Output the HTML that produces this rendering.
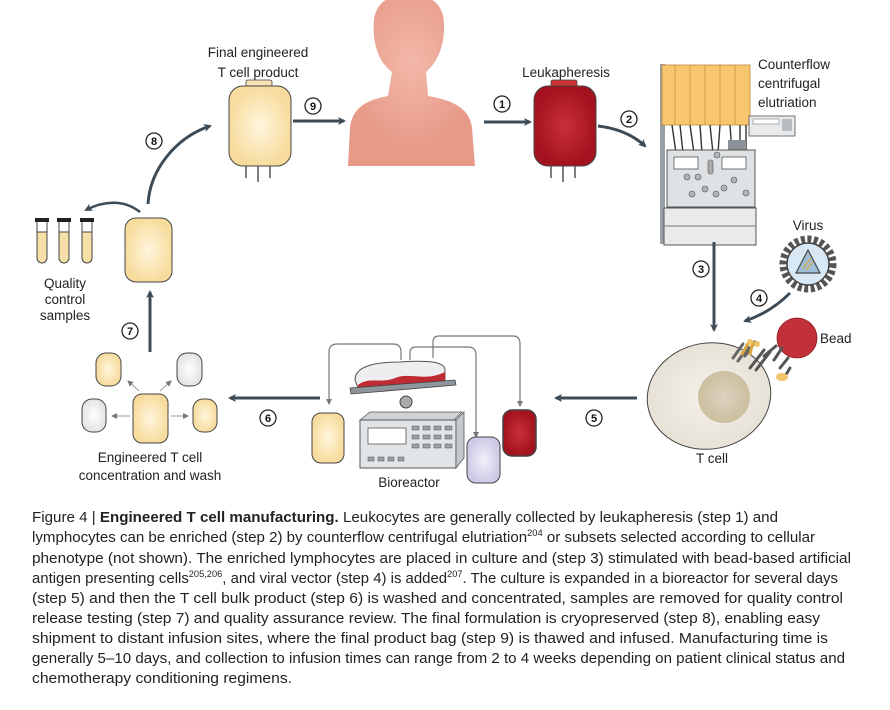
<!DOCTYPE html>
<html><head><meta charset="utf-8"><style>
html,body{margin:0;padding:0;background:#fff;}
svg{display:block;font-family:"Liberation Sans",sans-serif;}
</style></head><body>
<svg width="890" height="710" viewBox="0 0 890 710" xmlns="http://www.w3.org/2000/svg">
<defs>
<marker id="ah" markerWidth="8" markerHeight="8" refX="6" refY="4" orient="auto" markerUnits="userSpaceOnUse"><path d="M0,0 L8,4 L0,8 L2,4z" fill="#3d4b57"/></marker>
<marker id="ahs" markerWidth="6" markerHeight="6" refX="5" refY="3" orient="auto" markerUnits="userSpaceOnUse"><path d="M0,0 L6,3 L0,6z" fill="#777"/></marker>
<radialGradient id="cream"><stop offset="0" stop-color="#fff6dd"/><stop offset="1" stop-color="#f7dc9e"/></radialGradient>
<radialGradient id="red"><stop offset="0" stop-color="#c9303a"/><stop offset="1" stop-color="#a3121e"/></radialGradient>
<radialGradient id="lil"><stop offset="0" stop-color="#f3f0fa"/><stop offset="1" stop-color="#cfc9e6"/></radialGradient>
<radialGradient id="wh"><stop offset="0" stop-color="#ffffff"/><stop offset="1" stop-color="#e4e4e4"/></radialGradient>
<radialGradient id="pink" cx="0.5" cy="0.4"><stop offset="0" stop-color="#f3b8a8"/><stop offset="1" stop-color="#e79a88"/></radialGradient>
<radialGradient id="cell"><stop offset="0" stop-color="#f5f2ec"/><stop offset="1" stop-color="#e7e1d6"/></radialGradient>
<radialGradient id="nuc"><stop offset="0" stop-color="#ddd3bf"/><stop offset="1" stop-color="#cbbf9f"/></radialGradient>
</defs>

<!-- Body -->
<path d="M348,166 L350,128 C352,108 366,100 388,96 L392,72 C378,62 372,42 374,20 C376,2 390,-6 410,-6 C432,-6 444,6 444,24 C445,44 438,62 426,72 L428,96 C452,100 470,108 472,128 L475,166 Z" fill="url(#pink)"/>

<!-- Final bag -->
<g>
<rect x="246" y="80" width="26" height="8" rx="2" fill="#f4e2b6" stroke="#444" stroke-width="0.8"/>
<rect x="229" y="86" width="62" height="80" rx="14" fill="url(#cream)" stroke="#444" stroke-width="1"/>
<path d="M246,166 v12 M258,166 v16 M270,166 v12" stroke="#555" stroke-width="1.5" fill="none"/>
</g>
<text x="258" y="57" font-size="13.5" text-anchor="middle" fill="#222">Final engineered</text>
<text x="258" y="77" font-size="13.5" text-anchor="middle" fill="#222">T cell product</text>

<!-- Leuka bag -->
<g>
<rect x="551" y="80" width="26" height="8" rx="2" fill="#c33" stroke="#444" stroke-width="0.8"/>
<rect x="534" y="86" width="62" height="80" rx="14" fill="url(#red)" stroke="#444" stroke-width="1"/>
<path d="M551,166 v12 M563,166 v16 M575,166 v12" stroke="#555" stroke-width="1.5" fill="none"/>
</g>
<text x="566" y="77" font-size="13.5" text-anchor="middle" fill="#222">Leukapheresis</text>

<!-- arrows top -->
<line x1="293" y1="121" x2="344" y2="121" stroke="#3d4b57" stroke-width="3" marker-end="url(#ah)"/>
<line x1="484" y1="122" x2="530" y2="122" stroke="#3d4b57" stroke-width="3" marker-end="url(#ah)"/>
<path d="M598,126 C615,128 632,134 645,146" stroke="#3d4b57" stroke-width="3" fill="none" marker-end="url(#ah)"/>
<path d="M148,204 C150,170 175,138 210,126" stroke="#3d4b57" stroke-width="3" fill="none" marker-end="url(#ah)"/>

<!-- machine -->
<g>
<rect x="660" y="64" width="5" height="180" fill="#9aa0a6"/>
<rect x="662" y="65" width="88" height="60" fill="#f7c66e" stroke="#b98a3a" stroke-width="0.8"/>
<path d="M675,65 v60 M690,65 v60 M705,65 v60 M720,65 v60 M735,65 v60" stroke="#c9953f" stroke-width="0.8"/>
<path d="M672,125 l4,28 M680,125 l3,28 M690,125 l4,28 M700,125 l2,28 M710,125 l3,28 M720,125 l-2,28 M730,125 l2,28 M740,125 l0,28 M746,125 l0,28" stroke="#333" stroke-width="1.4"/>
<rect x="749" y="116" width="46" height="20" fill="#e8eaec" stroke="#555" stroke-width="0.8"/>
<rect x="753" y="119" width="26" height="5" fill="#fff" stroke="#666" stroke-width="0.5"/>
<rect x="782" y="119" width="10" height="12" fill="#b8bdc2"/>
<rect x="728" y="140" width="18" height="12" fill="#8a9198"/>
<rect x="667" y="150" width="88" height="57" fill="#dfe2e4" stroke="#555" stroke-width="1"/>
<rect x="674" y="157" width="24" height="12" fill="#fff" stroke="#555" stroke-width="0.8"/>
<rect x="722" y="157" width="24" height="12" fill="#fff" stroke="#555" stroke-width="0.8"/>
<rect x="708" y="160" width="5" height="14" rx="2" fill="#aaa" stroke="#555" stroke-width="0.6"/>
<g fill="#b0b5ba" stroke="#555" stroke-width="0.6"><circle cx="687" cy="177" r="3"/><circle cx="698" cy="177" r="3"/><circle cx="705" cy="189" r="3"/><circle cx="716" cy="194" r="3"/><circle cx="724" cy="188" r="3"/><circle cx="734" cy="180" r="3"/><circle cx="746" cy="193" r="3"/><circle cx="692" cy="194" r="3"/><circle cx="717" cy="155" r="3"/></g>
<rect x="664" y="208" width="92" height="37" fill="#e8eaec" stroke="#555" stroke-width="1"/>
<line x1="664" y1="226" x2="756" y2="226" stroke="#777"/>
</g>
<text x="758" y="69" font-size="13.5" fill="#222">Counterflow</text>
<text x="758" y="88" font-size="13.5" fill="#222">centrifugal</text>
<text x="758" y="107" font-size="13.5" fill="#222">elutriation</text>

<!-- Virus -->
<text x="808" y="230" font-size="13.5" text-anchor="middle" fill="#222">Virus</text>
<circle cx="808" cy="264" r="25" fill="none" stroke="#555" stroke-width="7" stroke-dasharray="4 2.5"/>
<circle cx="808" cy="264" r="21" fill="#d8e8f5" stroke="#444" stroke-width="1.5"/>
<path d="M796,273 L808,250 L820,273 Z" fill="#9fbfd8" stroke="#444" stroke-width="1.2"/>
<path d="M803,268 l8,-10 M806,270 l7,-8" stroke="#d9a640" stroke-width="1.2"/>

<!-- arrows 3,4 -->
<line x1="714" y1="242" x2="714" y2="330" stroke="#3d4b57" stroke-width="3" marker-end="url(#ah)"/>
<path d="M790,293 C775,308 760,316 745,321" stroke="#3d4b57" stroke-width="3" fill="none" marker-end="url(#ah)"/>

<!-- T cell -->
<ellipse cx="709" cy="396" rx="62" ry="53" transform="rotate(-10 709 396)" fill="url(#cell)" stroke="#444" stroke-width="1"/>
<circle cx="724" cy="397" r="26" fill="url(#nuc)"/>
<circle cx="797" cy="338" r="20" fill="#c2303a" stroke="#8b1a22" stroke-width="0.8"/>
<g stroke-width="3" stroke-linecap="round">
<path d="M733,358 l10,-14 M738,361 l10,-14 M745,356 l10,-14" stroke="#666"/>
<path d="M742,354 l7,-12 M750,354 l3,-12" stroke="#d9a640"/>
<path d="M750,368 l14,-18 M756,370 l14,-18 M764,356 l12,-10 M774,360 l8,-12 M780,368 l8,-10 M784,378 l6,-10" stroke="#555"/>
</g>
<ellipse cx="782" cy="377" rx="6" ry="4" fill="#f1c46a"/>
<circle cx="750" cy="342" r="3" fill="#f1c46a"/><circle cx="757" cy="344" r="3" fill="#f1c46a"/>
<text x="820" y="343" font-size="13.5" fill="#222">Bead</text>
<text x="712" y="463" font-size="13.5" text-anchor="middle" fill="#222">T cell</text>

<!-- arrow 5,6 -->
<line x1="637" y1="398" x2="556" y2="398" stroke="#3d4b57" stroke-width="3" marker-end="url(#ah)"/>
<line x1="320" y1="398" x2="230" y2="398" stroke="#3d4b57" stroke-width="3" marker-end="url(#ah)"/>

<!-- Bioreactor -->
<g fill="none" stroke="#777" stroke-width="1.2">
<path d="M401,360 v-8 q0,-8 -8,-8 h-56 q-8,0 -8,8 v52" marker-end="url(#ahs)"/>
<path d="M410,360 v-7 q0,-6 6,-6 h52 q8,0 8,8 v82" marker-end="url(#ahs)"/>
<path d="M433,358 v-16 q0,-6 6,-6 h74 q7,0 7,8 v62" marker-end="url(#ahs)"/>
</g>
<path d="M355,380 C355,368 370,362 400,362 C430,360 445,362 445,370 L445,384 L358,388 Z" fill="#eeeef0" stroke="#555" stroke-width="1"/>
<path d="M358,385 C370,376 380,384 395,378 C410,372 425,382 445,372 L445,384 L358,388 Z" fill="#c02a33"/>
<path d="M350,388 L455,380 L456,385 L351,394 Z" fill="#8e959b" stroke="#444" stroke-width="0.8"/>
<circle cx="406" cy="402" r="6" fill="#aaa" stroke="#444"/>
<path d="M360,420 l10,-8 h92 l-8,8 z" fill="#cfd3d6" stroke="#555" stroke-width="0.8"/>
<rect x="360" y="420" width="96" height="48" fill="#e2e5e7" stroke="#555" stroke-width="1"/>
<path d="M456,420 l8,-8 v46 l-8,10z" fill="#c4c8cc" stroke="#555" stroke-width="0.8"/>
<rect x="368" y="428" width="38" height="16" fill="#fff" stroke="#555" stroke-width="0.8"/>
<g fill="#9aa0a6" stroke="#555" stroke-width="0.5">
<rect x="412" y="426" width="7" height="4"/><rect x="423" y="426" width="7" height="4"/><rect x="434" y="426" width="7" height="4"/><rect x="445" y="426" width="7" height="4"/>
<rect x="412" y="435" width="7" height="4"/><rect x="423" y="435" width="7" height="4"/><rect x="434" y="435" width="7" height="4"/><rect x="445" y="435" width="7" height="4"/>
<rect x="412" y="444" width="7" height="4"/><rect x="423" y="444" width="7" height="4"/><rect x="434" y="444" width="7" height="4"/><rect x="445" y="444" width="7" height="4"/>
<rect x="368" y="457" width="6" height="4"/><rect x="378" y="457" width="6" height="4"/><rect x="388" y="457" width="6" height="4"/><rect x="398" y="457" width="6" height="4"/>
</g>
<rect x="312" y="413" width="32" height="50" rx="9" fill="url(#cream)" stroke="#444" stroke-width="1"/>
<rect x="467" y="437" width="33" height="46" rx="9" fill="url(#lil)" stroke="#444" stroke-width="1"/>
<rect x="503" y="410" width="33" height="46" rx="9" fill="url(#red)" stroke="#444" stroke-width="1.5"/>
<text x="409" y="487" font-size="13.5" text-anchor="middle" fill="#222">Bioreactor</text>

<!-- wash group -->
<rect x="133" y="394" width="35" height="49" rx="9" fill="url(#cream)" stroke="#444" stroke-width="1"/>
<rect x="96" y="353" width="25" height="33" rx="10" fill="url(#cream)" stroke="#444" stroke-width="1"/>
<rect x="177" y="353" width="25" height="33" rx="10" fill="url(#wh)" stroke="#444" stroke-width="1"/>
<rect x="82" y="399" width="24" height="33" rx="10" fill="url(#wh)" stroke="#444" stroke-width="1"/>
<rect x="193" y="399" width="24" height="33" rx="10" fill="url(#cream)" stroke="#444" stroke-width="1"/>
<g stroke="#777" stroke-width="0.8" marker-end="url(#ahs)">
<line x1="139" y1="391" x2="128" y2="381"/><line x1="160" y1="391" x2="171" y2="381"/>
<line x1="130" y1="416" x2="112" y2="416"/><line x1="171" y1="416" x2="188" y2="416"/>
</g>
<text x="150" y="462" font-size="13.5" text-anchor="middle" fill="#222">Engineered T cell</text>
<text x="150" y="480" font-size="13.5" text-anchor="middle" fill="#222">concentration and wash</text>

<!-- arrow 7 -->
<line x1="150" y1="352" x2="150" y2="292" stroke="#3d4b57" stroke-width="3" marker-end="url(#ah)"/>
<rect x="125" y="218" width="47" height="64" rx="11" fill="url(#cream)" stroke="#444" stroke-width="1"/>
<path d="M140,212 C125,200 105,200 86,210" stroke="#3d4b57" stroke-width="2.5" fill="none" marker-end="url(#ah)"/>

<!-- tubes -->
<g>
<rect x="37" y="221" width="10" height="42" rx="5" fill="#f7dfa8" stroke="#444" stroke-width="1"/>
<rect x="59" y="221" width="10" height="42" rx="5" fill="#f7dfa8" stroke="#444" stroke-width="1"/>
<rect x="82" y="221" width="10" height="42" rx="5" fill="#f7dfa8" stroke="#444" stroke-width="1"/>
<rect x="37" y="221" width="10" height="11" fill="#fff" stroke="#444" stroke-width="1"/>
<rect x="59" y="221" width="10" height="11" fill="#fff" stroke="#444" stroke-width="1"/>
<rect x="82" y="221" width="10" height="11" fill="#fff" stroke="#444" stroke-width="1"/>
<rect x="35" y="218" width="14" height="4" fill="#222"/><rect x="57" y="218" width="14" height="4" fill="#222"/><rect x="80" y="218" width="14" height="4" fill="#222"/>
</g>
<text x="65" y="288" font-size="13.5" text-anchor="middle" fill="#222">Quality</text>
<text x="65" y="304" font-size="13.5" text-anchor="middle" fill="#222">control</text>
<text x="65" y="320" font-size="13.5" text-anchor="middle" fill="#222">samples</text>

<!-- number circles -->
<g font-size="11" font-weight="bold" text-anchor="middle" fill="#111">
<g fill="#fff" stroke="#222" stroke-width="1.3">
<circle cx="313" cy="106" r="8"/><circle cx="502" cy="104" r="8"/><circle cx="629" cy="119" r="8"/><circle cx="154" cy="141" r="8"/>
<circle cx="701" cy="269" r="8"/><circle cx="759" cy="298" r="8"/><circle cx="594" cy="418" r="8"/><circle cx="268" cy="418" r="8"/><circle cx="130" cy="331" r="8"/>
</g>
<text x="313" y="110">9</text><text x="502" y="108">1</text><text x="629" y="123">2</text><text x="154" y="145">8</text>
<text x="701" y="273">3</text><text x="759" y="302">4</text><text x="594" y="422">5</text><text x="268" y="422">6</text><text x="130" y="335">7</text>
</g>

<!-- caption -->
<g font-size="14.5" fill="#222">
<text x="32" y="522" textLength="746" lengthAdjust="spacingAndGlyphs">Figure 4 | <tspan font-weight="bold">Engineered T cell manufacturing.</tspan> Leukocytes are generally collected by leukapheresis (step 1) and</text>
<text x="32" y="542" textLength="783" lengthAdjust="spacingAndGlyphs">lymphocytes can be enriched (step 2) by counterflow centrifugal elutriation<tspan font-size="9" dy="-6">204</tspan><tspan dy="6"> or subsets selected according to cellular</tspan></text>
<text x="32" y="563" textLength="819" lengthAdjust="spacingAndGlyphs">phenotype (not shown).  The enriched lymphocytes are placed in culture and (step 3) stimulated with bead-based artificial</text>
<text x="32" y="583" textLength="806" lengthAdjust="spacingAndGlyphs">antigen presenting cells<tspan font-size="9" dy="-6">205,206</tspan><tspan dy="6">, and viral vector (step 4) is added</tspan><tspan font-size="9" dy="-6">207</tspan><tspan dy="6">. The culture is expanded in a bioreactor for several days</tspan></text>
<text x="32" y="603" textLength="811" lengthAdjust="spacingAndGlyphs">(step 5) and then the T cell bulk product (step 6) is washed and concentrated, samples are removed for quality control</text>
<text x="32" y="623" textLength="788" lengthAdjust="spacingAndGlyphs">release testing (step 7) and quality assurance review. The final formulation is cryopreserved (step 8), enabling easy</text>
<text x="32" y="643" textLength="796" lengthAdjust="spacingAndGlyphs">shipment to distant infusion sites, where the final product bag (step 9) is thawed and infused. Manufacturing time is</text>
<text x="32" y="663" textLength="813" lengthAdjust="spacingAndGlyphs">generally 5–10 days, and collection to infusion times can range from 2 to 4 weeks depending on patient clinical status and</text>
<text x="32" y="683" textLength="260" lengthAdjust="spacingAndGlyphs">chemotherapy conditioning regimens.</text>
</g>
</svg>
</body></html>
